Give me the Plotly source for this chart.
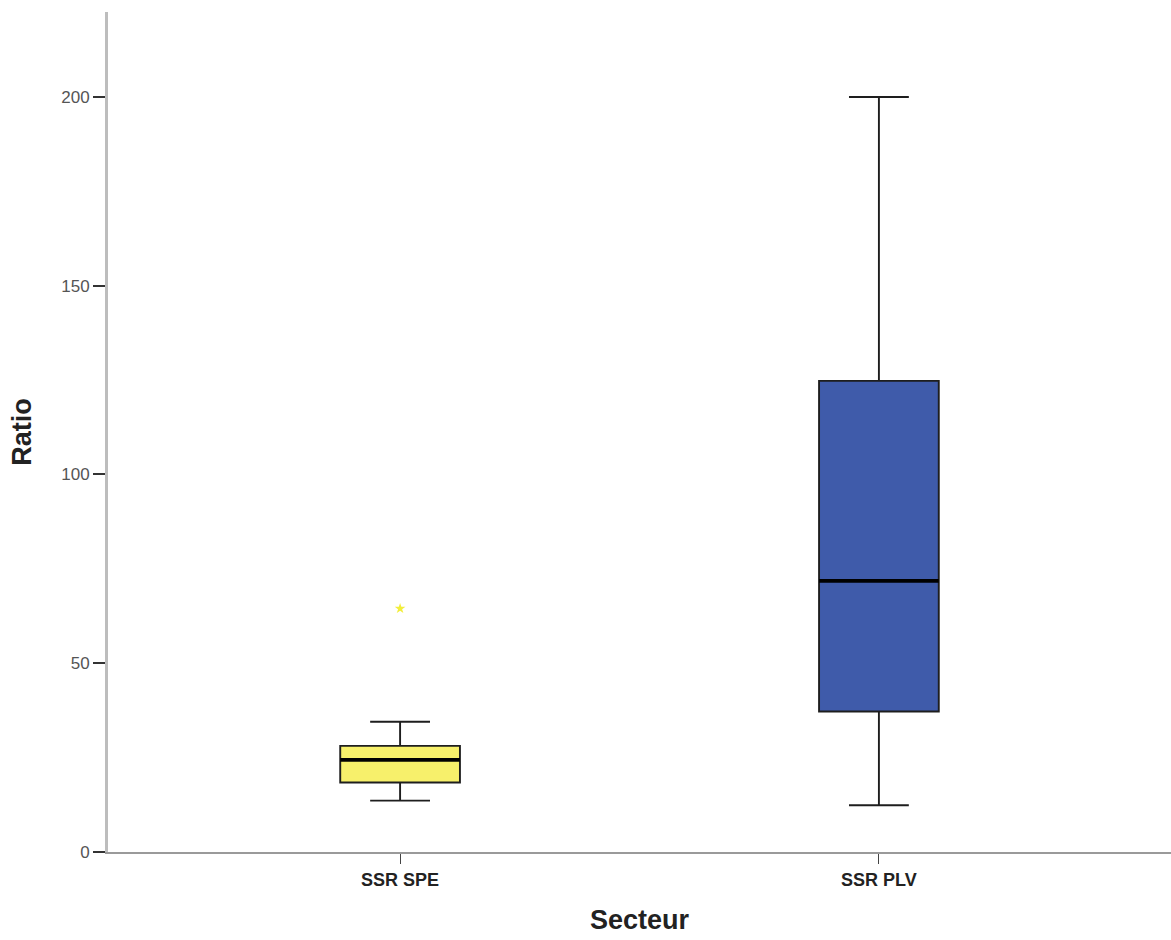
import plotly.graph_objects as go

categories = ["SSR SPE", "SSR PLV"]
q1 = [18.4, 37.2]
median = [24.4, 71.8]
q3 = [28.1, 124.8]
lower_whisker = [13.6, 12.4]
upper_whisker = [34.5, 200.0]
fill_colors = ["#F7F06B", "#3F5BAA"]
outlier_cat = ["SSR SPE"]
outlier_val = [64.5]

xpos = list(range(len(categories)))
box_w = 0.25

fig = go.Figure()
for i, cat in enumerate(categories):
    fig.add_trace(go.Box(
        x=[xpos[i]], q1=[q1[i]], median=[median[i]], q3=[q3[i]],
        lowerfence=[lower_whisker[i]], upperfence=[upper_whisker[i]],
        fillcolor=fill_colors[i], line=dict(color="#1E1E1E", width=1.9),
        width=box_w, whiskerwidth=0.5, showlegend=False, hoverinfo="skip",
    ))
    fig.add_trace(go.Scatter(
        x=[xpos[i] - box_w / 2, xpos[i] + box_w / 2], y=[median[i], median[i]],
        mode="lines", line=dict(color="black", width=3.8),
        showlegend=False, hoverinfo="skip",
    ))

fig.add_trace(go.Scatter(
    x=[xpos[categories.index(c)] for c in outlier_cat], y=outlier_val,
    mode="markers", marker=dict(symbol="star", size=8, color="#F2EE3A"),
    showlegend=False, hoverinfo="skip",
))

fig.update_layout(
    width=1171, height=940,
    margin=dict(l=108, r=0, t=12, b=88),
    plot_bgcolor="white", paper_bgcolor="white",
    font=dict(family="Liberation Sans, Arial, sans-serif", color="#333333"),
)
fig.update_xaxes(
    range=[-0.61, 1.61], tickvals=xpos, ticktext=categories,
    showgrid=False, zeroline=False,
    showline=True, linecolor="#9A9A9A", linewidth=2,
    ticks="outside", ticklen=10, tickcolor="#444444", tickwidth=1,
    ticklabelstandoff=0,
    tickfont=dict(size=18, color="#222222", weight="bold"),
    title=dict(text="<b>Secteur</b>", font=dict(size=27, color="#222222"), standoff=22),
)
fig.update_yaxes(
    range=[0, 222.5], tickvals=[0, 50, 100, 150, 200],
    showgrid=False, zeroline=False,
    showline=True, linecolor="#BDBDBD", linewidth=3,
    ticks="outside", ticklen=12, tickcolor="#333333", tickwidth=2,
    tickfont=dict(size=17, color="#555555"),
    title=dict(text="<b>Ratio</b>", font=dict(size=27, color="#222222"), standoff=22),
)

fig.write_html(
    "out.html",
    config={"displayModeBar": False},
    post_script="document.body.style.margin='0';document.body.style.overflow='hidden';",
)
